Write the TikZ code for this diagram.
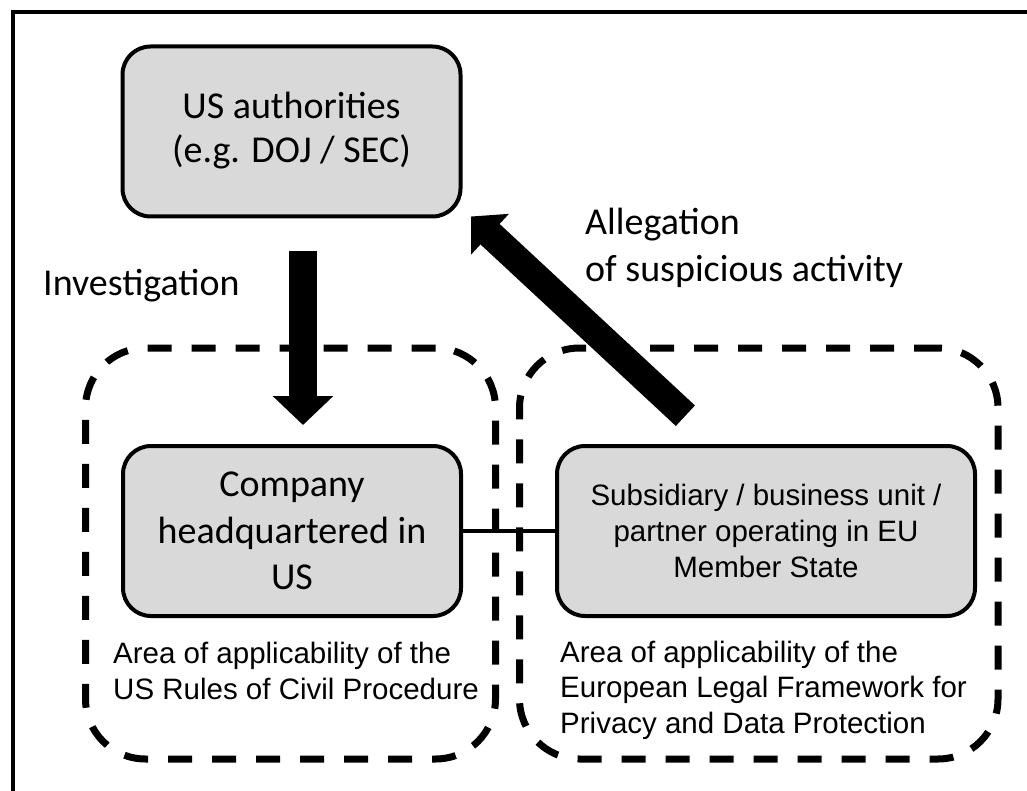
\documentclass[tikz,border=0pt]{standalone}
\usepackage{fontspec}
\setmainfont{Carlito}
\newfontfamily\arialfont{Liberation Sans}
\usetikzlibrary{arrows.meta}
\definecolor{boxgray}{HTML}{D9D9D9}
\begin{document}
\begin{tikzpicture}[x=1pt,y=-1pt,
  entity/.style={draw=black, line width=4pt, fill=boxgray, rounded corners=28pt, inner sep=0pt, outer sep=0pt, align=center},
  area/.style={draw=black, line width=7pt, dash pattern=on 24pt off 20pt, rounded corners=60pt, inner sep=0pt, outer sep=0pt},
  calib/.style={font=\fontsize{38}{46.5}\selectfont},
  arialtxt/.style={font=\arialfont\fontsize{29.5}{35.5}\selectfont},
  bigarrow/.style={line width=28pt, -{Triangle[width=59pt,length=29pt]}},
  diagarrow/.style={line width=28pt, -{Triangle[width=54pt,length=26pt]}},
  link/.style={line width=4.5pt},
  frame/.style={line width=4pt}
]
\useasboundingbox (0,0) rectangle (1027,791);
\fill[white] (0,0) rectangle (1027,791);
\draw[frame] (13,791) -- (13,12) -- (1027,12);

% areas
\node[area, minimum width=410pt, minimum height=411pt] (usarea) at (290.5,553.5) {};
\node[area, minimum width=478.5pt, minimum height=411pt] (euarea) at (758.75,553.5) {};

% entities
\node[entity, calib, font=\fontsize{38}{45}\selectfont, minimum width=338pt, minimum height=170pt] (usa) at (291.5,131.5) {\raisebox{-6pt}{\begin{tabular}{@{}c@{}}US authorities\\[-1pt](e.g. DOJ / SEC)\end{tabular}}};
\node[entity, calib, minimum width=338pt, minimum height=170pt] (hq) at (292,531) {Company\\headquartered in\\US};
\node[entity, font=\arialfont\fontsize{29.5}{36}\selectfont, minimum width=418pt, minimum height=170pt] (sub) at (766,531) {Subsidiary / business unit /\\partner operating in EU\\Member State};

% connectors
\draw[link] (hq.east) -- (sub.west);
\draw[bigarrow, shorten <=34.5pt, shorten >=21pt] ([xshift=11.5pt]usa.south) -- ([xshift=11pt]hq.north);
\draw[diagarrow, shorten <=44.5pt] ([xshift=-48pt]sub.north) -- ([xshift=10.5pt]usa.south east);

% labels (base anchor = last line's baseline)
\node[calib, anchor=base west, inner sep=0pt] (invlbl) at (43,295) {Investigation};
\node[calib, font=\fontsize{38}{47}\selectfont, anchor=base west, align=left, inner sep=0pt] (alglbl) at (585,282) {Allegation\\of suspicious activity};
\node[arialtxt, anchor=base west, align=left, inner sep=0pt] (uslbl) at (113,699) {Area of applicability of the\\US Rules of Civil Procedure};
\node[arialtxt, anchor=base west, align=left, inner sep=0pt] (eulbl) at (560,733) {Area of applicability of the\\European Legal Framework for\\Privacy and Data Protection};
\end{tikzpicture}
\end{document}
